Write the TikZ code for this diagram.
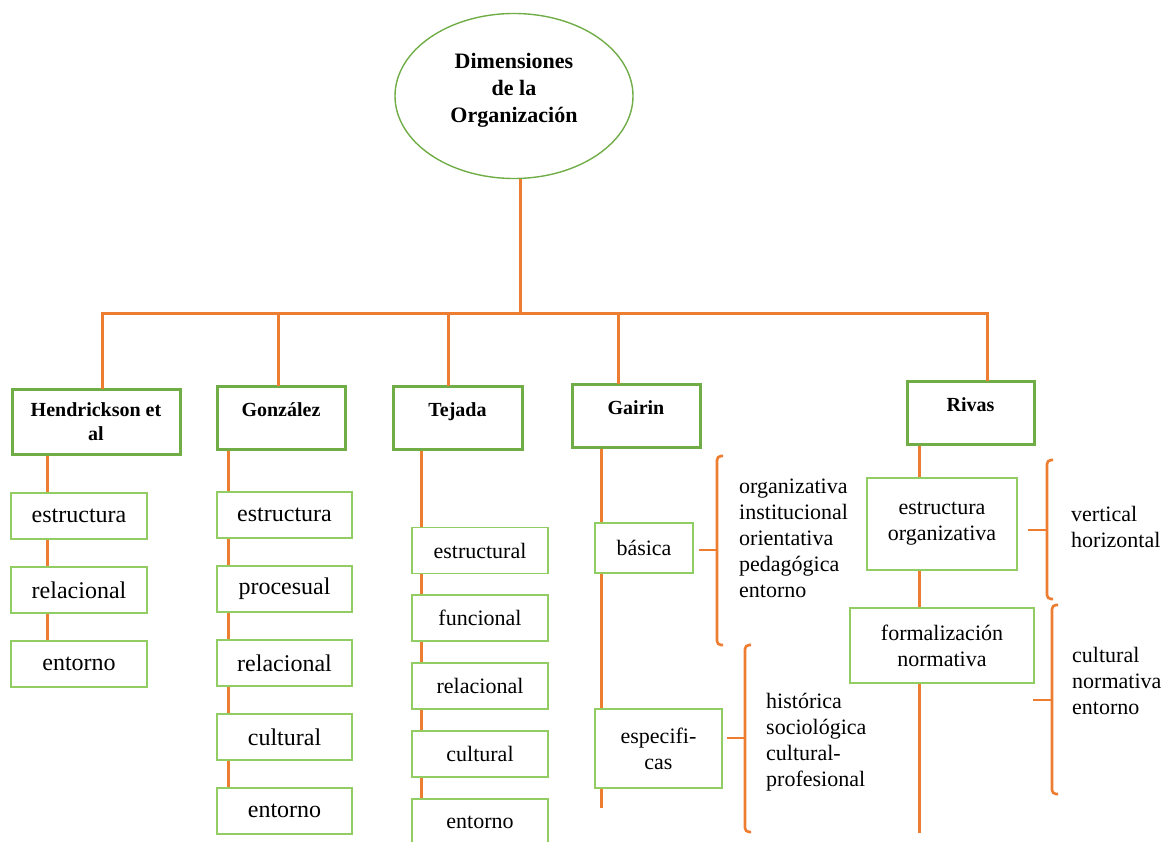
\documentclass[tikz,border=0pt]{standalone}
\usepackage{fontspec}
\setmainfont{Liberation Serif}
\usetikzlibrary{shapes.geometric, backgrounds}

\definecolor{branchorange}{RGB}{237,125,49}
\definecolor{headgreen}{RGB}{112,173,71}
\definecolor{itemgreen}{RGB}{146,205,100}

\tikzset{
	branch/.style={draw=branchorange, line width=3pt},
	bracket/.style={draw=branchorange, line width=2.6pt, rounded corners=4pt},
	headbox/.style={draw=headgreen, line width=3pt, fill=white, outer sep=0pt, inner xsep=0pt, inner ysep=0pt, font=\bfseries\fontsize{20}{24}\selectfont},
	headtop/.style={headbox, text height=30pt, text depth=33pt, anchor=north west},
	item/.style={draw=itemgreen, line width=1.6pt, fill=white, outer sep=0pt, inner sep=0pt, minimum height=46pt, align=center, font=\fontsize{22}{26}\selectfont},
	bigitem/.style={item, minimum width=136pt, font=\fontsize{24}{28}\selectfont},
	bracetext/.style={anchor=west, align=left, inner sep=0pt, font=\fontsize{22}{26}\selectfont},
}

\begin{document}
\begin{tikzpicture}[x=1pt, y=-1pt]
	\useasboundingbox (0,0) rectangle (1164,842);

	% root
	\node[ellipse, draw=headgreen, line width=1.4pt, minimum width=238pt, minimum height=165pt] (org) at (514,96) {};
	\node[align=center, font=\bfseries\fontsize{22}{27}\selectfont] (orgtext) at (514,90) {Dimensiones\\de la\\Organización};

	% authors
	\node[headbox, minimum width=168pt, minimum height=65pt, align=center, anchor=north west] (hend) at (12,389) {Hendrickson et\\al};
	\node[headtop, minimum width=128pt] (gonz) at (217,386) {González};
	\node[headtop, minimum width=129pt] (tej) at (393,386) {Tejada};
	\node[headtop, minimum width=128pt] (gai) at (572,384) {Gairin};
	\node[headtop, minimum width=127pt] (riv) at (907,381) {Rivas};

	\coordinate (bar) at (520,313);
	\draw[branch] (bar |- org.south) -- (bar);
	\draw[branch] ([xshift=6pt]hend.north) |- (bar) -| ([xshift=17pt]riv.north);
	\draw[branch] ([xshift=-3pt]gonz.north) |- (bar);
	\draw[branch] ([xshift=-9.5pt]tej.north) |- (bar);
	\draw[branch] ([xshift=-18pt]gai.north) |- (bar);

	% Hendrickson et al
	\node[bigitem] (hend1) at (79,516) {estructura};
	\node[bigitem] (hend2) at (79,590) {relacional};
	\node[bigitem] (hend3) at (79,664) {entorno};

	% Gonzalez
	\node[bigitem, minimum width=135pt] (gonz1) at (284.5,515) {estructura};
	\node[bigitem, minimum width=135pt] (gonz2) at (284.5,589) {procesual};
	\node[bigitem, minimum width=135pt] (gonz3) at (284.5,663) {relacional};
	\node[bigitem, minimum width=135pt] (gonz4) at (284.5,737) {cultural};
	\node[bigitem, minimum width=135pt] (gonz5) at (284.5,811) {entorno};

	% Tejada
	\node[item, minimum width=136pt] (tej1) at (480,550.5) {estructural};
	\node[item, minimum width=136pt] (tej2) at (480,618) {funcional};
	\node[item, minimum width=136pt] (tej3) at (480,686) {relacional};
	\node[item, minimum width=136pt] (tej4) at (480,754) {cultural};
	\node[item, minimum width=136pt] (tej5) at (480,822) {entorno};

	% Gairin
	\node[item, minimum width=98pt, minimum height=50pt] (basica) at (644,548) {básica};
	\node[item, minimum width=127pt, minimum height=79pt] (espec) at (658.5,748.5) {especifi-\\cas};
	\coordinate (gaiend) at (601,808);

	\draw[bracket] (723,456) -- (717,456) -- (717,645) -- (723,645);
	\draw[bracket] (699,550) -- (717,550);
	\node[bracetext] (basicalist) at (739,538) {organizativa\\institucional\\orientativa\\pedagógica\\entorno};

	\draw[bracket] (751,645) -- (745,645) -- (745,832) -- (751,832);
	\draw[bracket] (727,738) -- (745,738);
	\node[bracetext] (especlist) at (766,742) {histórica\\sociológica\\cultural-\\profesional};

	% Rivas
	\node[item, minimum width=150pt, minimum height=92pt] (estorg) at (942,524) {estructura\\organizativa};
	\node[item, minimum width=184pt, minimum height=75pt] (formnorm) at (942,645.5) {formalización\\normativa};
	\coordinate (rivend) at (919,833);

	\draw[bracket] (1053,460) -- (1047,460) -- (1047,599) -- (1053,599);
	\draw[bracket] (1028,530) -- (1047,530);
	\node[bracetext] (estorglist) at (1071,526.5) {vertical\\horizontal};

	\draw[bracket] (1058,605) -- (1052,605) -- (1052,794) -- (1058,794);
	\draw[bracket] (1033,700) -- (1052,700);
	\node[bracetext] (formlist) at (1072,681) {cultural\\normativa\\entorno};

	% columns
	\begin{scope}[on background layer]
		\draw[branch] ([xshift=35pt]hend.south west) -- ([xshift=36pt]hend3.north west);
		\draw[branch] ([xshift=11pt]gonz.south west) -- ([xshift=11pt]gonz5.north west);
		\draw[branch] ([xshift=28pt]tej.south west) -- ([xshift=9pt]tej5.north west);
		\draw[branch] ([xshift=29pt]gai.south west) -- (gaiend);
		\draw[branch] ([xshift=12pt]riv.south west) -- (rivend);
	\end{scope}
\end{tikzpicture}
\end{document}
